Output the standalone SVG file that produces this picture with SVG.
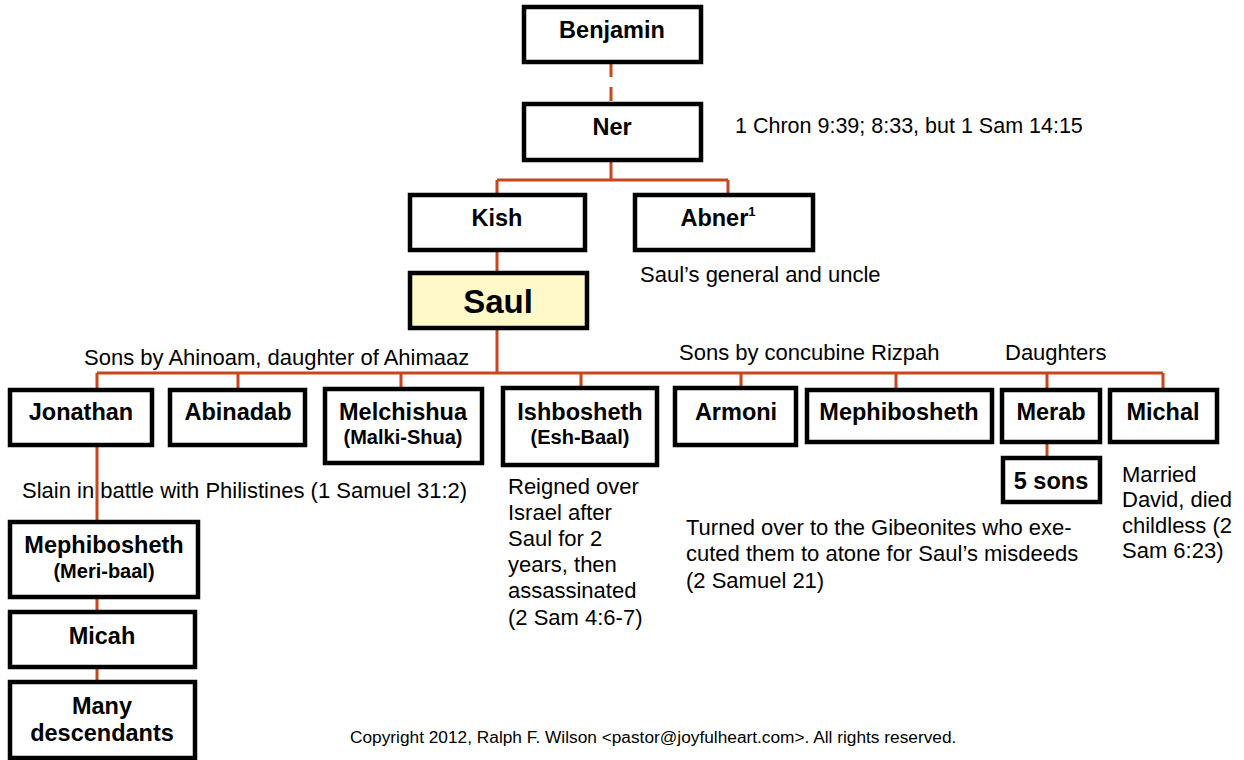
<svg xmlns="http://www.w3.org/2000/svg" width="1244" height="760" viewBox="0 0 1244 760">
<style>
.box{fill:#fff;stroke:#000;stroke-width:4.5}
.saul{fill:#FFF9C9;stroke:#000;stroke-width:4.5}
.t{font-family:"Liberation Sans",Arial,sans-serif;font-weight:bold;font-size:23.5px;fill:#000;text-anchor:middle}
.big{font-size:33px}
.s{font-family:"Liberation Sans",Arial,sans-serif;font-weight:bold;font-size:20px;fill:#000;text-anchor:middle}
.n{font-family:"Liberation Sans",Arial,sans-serif;font-size:22px;fill:#000}
.sm{font-size:21.5px}
.c{font-family:"Liberation Sans",Arial,sans-serif;font-size:17.3px;fill:#000}
.ln{fill:none;stroke:#C8461E;stroke-width:3}
</style>
<rect width="1244" height="760" fill="#fff"/>
<g id="connectors">
<path class="ln" d="M611 63V104" stroke-dasharray="14 10"/>
<path class="ln" d="M611 160V180M497 180H728M497 180V195M728 180V195"/>
<path class="ln" d="M497 250V273M497 328V373M97 373H1163"/>
<path class="ln" d="M97 373V390M238 373V390M401 373V389M581 373V388M741 373V388M896 373V390M1047 373V390M1163 373V390"/>
<path class="ln" d="M1047 442V458"/>
<path class="ln" d="M97 445V522M97 597V612M97 667V682"/>
</g>
<g id="benjamin"><rect class="box" x="524" y="7" width="177" height="55"/><text class="t" x="612" y="38">Benjamin</text></g>
<g id="ner"><rect class="box" x="524" y="104" width="177" height="56"/><text class="t" x="612" y="135">Ner</text></g>
<g id="kish"><rect class="box" x="410" y="195" width="175" height="55"/><text class="t" x="497" y="226">Kish</text></g>
<g id="abner"><rect class="box" x="635" y="195" width="178" height="55"/><text class="t" x="718" y="226">Abner<tspan style="font-size:13px" dy="-10">1</tspan></text></g>
<g id="saul"><rect class="saul" x="410" y="273" width="177" height="55"/><text class="t big" x="498" y="313">Saul</text></g>
<g id="jonathan"><rect class="box" x="10" y="390" width="142" height="55"/><text class="t" x="81" y="420">Jonathan</text></g>
<g id="abinadab"><rect class="box" x="170" y="390" width="135" height="55"/><text class="t" x="238" y="420">Abinadab</text></g>
<g id="melchishua"><rect class="box" x="325" y="389" width="157" height="74"/><text class="t" x="403" y="420">Melchishua</text><text class="s" x="403" y="444">(Malki-Shua)</text></g>
<g id="ishbosheth"><rect class="box" x="503" y="388" width="154" height="77"/><text class="t" x="580" y="420">Ishbosheth</text><text class="s" x="580" y="444">(Esh-Baal)</text></g>
<g id="armoni"><rect class="box" x="675" y="388" width="121" height="57"/><text class="t" x="736" y="420">Armoni</text></g>
<g id="mephibosheth-r"><rect class="box" x="807" y="390" width="185" height="52"/><text class="t" x="899" y="420">Mephibosheth</text></g>
<g id="merab"><rect class="box" x="1002" y="390" width="98" height="52"/><text class="t" x="1051" y="420">Merab</text></g>
<g id="michal"><rect class="box" x="1110" y="390" width="107" height="52"/><text class="t" x="1163" y="420">Michal</text></g>
<g id="fivesons"><rect class="box" x="1003" y="458" width="97" height="44"/><text class="t" x="1051" y="489">5 sons</text></g>
<g id="mephibosheth-j"><rect class="box" x="10" y="522" width="188" height="75"/><text class="t" x="104" y="553">Mephibosheth</text><text class="s" x="104" y="578">(Meri-baal)</text></g>
<g id="micah"><rect class="box" x="10" y="612" width="185" height="55"/><text class="t" x="102" y="644">Micah</text></g>
<g id="many"><rect class="box" x="10" y="682" width="185" height="76"/><text class="t" x="102" y="714">Many</text><text class="t" x="102" y="741">descendants</text></g>
<g id="notes">
<text class="n sm" x="735" y="133">1 Chron 9:39; 8:33, but 1 Sam 14:15</text>
<text class="n" x="640" y="282">Saul’s general and uncle</text>
<text class="n" x="84" y="365">Sons by Ahinoam, daughter of Ahimaaz</text>
<text class="n" x="679" y="360">Sons by concubine Rizpah</text>
<text class="n" x="1005" y="360">Daughters</text>
<text class="n" x="22" y="498">Slain in battle with Philistines (1 Samuel 31:2)</text>
<text class="n" x="508"><tspan x="508" y="494">Reigned over</tspan><tspan x="508" y="520">Israel after</tspan><tspan x="508" y="546">Saul for 2</tspan><tspan x="508" y="572">years, then</tspan><tspan x="508" y="598">assassinated</tspan><tspan x="508" y="625">(2 Sam 4:6-7)</tspan></text>
<text class="n" x="686"><tspan x="686" y="535">Turned over to the Gibeonites who exe-</tspan><tspan x="686" y="561">cuted them to atone for Saul’s misdeeds</tspan><tspan x="686" y="588">(2 Samuel 21)</tspan></text>
<text class="n" x="1122"><tspan x="1122" y="482">Married</tspan><tspan x="1122" y="507">David, died</tspan><tspan x="1122" y="533">childless (2</tspan><tspan x="1122" y="558">Sam 6:23)</tspan></text>
<text class="c" x="350" y="743">Copyright 2012, Ralph F. Wilson &lt;pastor@joyfulheart.com&gt;. All rights reserved.</text>
</g>
</svg>
